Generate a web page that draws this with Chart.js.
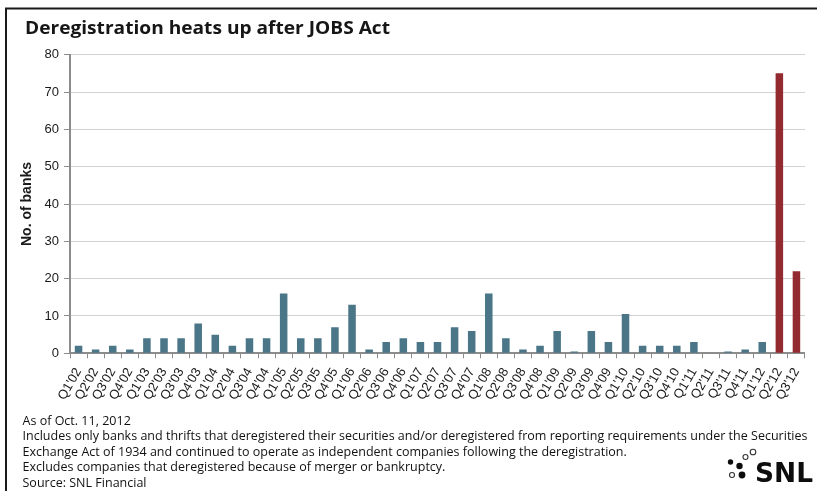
<!DOCTYPE html>
<html>
<head>
<meta charset="utf-8">
<script src="https://cdn.jsdelivr.net/npm/chart.js@4.4.1/dist/chart.umd.min.js"></script>
<style>
  html, body { margin: 0; padding: 0; background: #ffffff; }
  #wrap { width: 817px; height: 491px; position: relative; }
</style>
</head>
<body>
<div id="wrap"><canvas id="chart" width="817" height="491"></canvas></div>
<script>
// Quarter labels along the x axis
const quarters = [
  "Q1'02", "Q2'02", "Q3'02", "Q4'02",
  "Q1'03", "Q2'03", "Q3'03", "Q4'03",
  "Q1'04", "Q2'04", "Q3'04", "Q4'04",
  "Q1'05", "Q2'05", "Q3'05", "Q4'05",
  "Q1'06", "Q2'06", "Q3'06", "Q4'06",
  "Q1'07", "Q2'07", "Q3'07", "Q4'07",
  "Q1'08", "Q2'08", "Q3'08", "Q4'08",
  "Q1'09", "Q2'09", "Q3'09", "Q4'09",
  "Q1'10", "Q2'10", "Q3'10", "Q4'10",
  "Q1'11", "Q2'11", "Q3'11", "Q4'11",
  "Q1'12", "Q2'12", "Q3'12"
];

// Number of banks deregistering each quarter
const deregistrations = [
  2, 1, 2, 1,
  4, 4, 4, 8,
  5, 2, 4, 4,
  16, 4, 4, 7,
  13, 1, 3, 4,
  3, 3, 7, 6,
  16, 4, 1, 2,
  6, 0.5, 6, 3,
  10.5, 2, 2, 2,
  3, 0, 0.5, 1,
  3, 75, 22
];

// Quarters after the JOBS Act are highlighted
const postJobsAct = ["Q2'12", "Q3'12"];

// Y axis ticks
const yTicks = [0, 10, 20, 30, 40, 50, 60, 70, 80];

const titleText = 'Deregistration heats up after JOBS Act';
const yAxisTitle = 'No. of banks';
const noteLines = [
  'As of Oct. 11, 2012',
  'Includes only banks and thrifts that deregistered their securities and/or deregistered from reporting requirements under the Securities',
  'Exchange Act of 1934 and continued to operate as independent companies following the deregistration.',
  'Excludes companies that deregistered because of merger or bankruptcy.',
  'Source: SNL Financial'
];

const BLUE = '#4a7688';
const RED = '#922a2f';
const AXIS = '#8c8c8c';

const barColors = quarters.map(q => postJobsAct.includes(q) ? RED : BLUE);

// Draws a line of text squeezed/stretched horizontally by sx
function drawScaled(ctx, text, x, y, sx) {
  ctx.save();
  ctx.translate(x, y);
  ctx.scale(sx, 1);
  ctx.fillText(text, 0, 0);
  ctx.restore();
}

const decorations = {
  id: 'decorations',
  beforeDraw(chart) {
    const ctx = chart.ctx;
    ctx.save();
    ctx.fillStyle = '#ffffff';
    ctx.fillRect(0, 0, chart.width, chart.height);
    ctx.restore();
  },
  afterDraw(chart) {
    const ctx = chart.ctx;
    ctx.save();

    // frame lines
    ctx.strokeStyle = '#1a1a1a';
    ctx.lineWidth = 2;
    ctx.beginPath();
    ctx.moveTo(6, 491);
    ctx.lineTo(6, 8.5);
    ctx.lineTo(817, 8.5);
    ctx.stroke();

    // title
    ctx.fillStyle = '#161616';
    ctx.textBaseline = 'alphabetic';
    ctx.textAlign = 'left';
    ctx.font = 'bold 17.5px "Open Sans", sans-serif';
    const tw = ctx.measureText(titleText).width;
    drawScaled(ctx, titleText, 25, 33.5, 365 / tw);

    // footnotes
    ctx.fillStyle = '#111111';
    ctx.font = '12.5px "Open Sans", sans-serif';
    const longest = ctx.measureText(noteLines[1]).width;
    const sx = 785 / longest;
    const baselines = [425, 440.4, 455.8, 471.2, 486.6];
    noteLines.forEach((line, i) => drawScaled(ctx, line, 22.5, baselines[i], sx));

    // logo
    ctx.fillStyle = '#0d0d0d';
    ctx.font = 'bold 27px "DejaVu Sans", sans-serif';
    const lw = ctx.measureText('SNL').width;
    drawScaled(ctx, 'SNL', 755, 482, 58 / lw);
    const filled = [[730.5, 462, 2.7], [739.5, 466, 3.2], [742, 475, 3.4]];
    const hollow = [[753, 452, 2.8], [745.5, 457, 2.5], [732, 475, 2.5]];
    filled.forEach(([x, y, r]) => { ctx.beginPath(); ctx.arc(x, y, r, 0, Math.PI * 2); ctx.fill(); });
    ctx.strokeStyle = '#333';
    ctx.lineWidth = 1.1;
    hollow.forEach(([x, y, r]) => { ctx.beginPath(); ctx.arc(x, y, r, 0, Math.PI * 2); ctx.stroke(); });

    ctx.restore();
  }
};

new Chart(document.getElementById('chart'), {
  type: 'bar',
  data: {
    labels: quarters,
    datasets: [{
      data: deregistrations,
      backgroundColor: barColors,
      borderWidth: 0,
      barPercentage: 0.44,
      categoryPercentage: 1.0
    }]
  },
  options: {
    responsive: false,
    animation: false,
    devicePixelRatio: 1,
    layout: { padding: { top: 54.7, right: 3.3, bottom: 0, left: 0 } },
    plugins: {
      legend: { display: false },
      tooltip: { enabled: false },
      title: { display: false }
    },
    scales: {
      x: {
        offset: true,
        border: { display: true, color: AXIS, width: 2 },
        grid: {
          offset: true,
          drawOnChartArea: false,
          drawTicks: true,
          tickLength: 5,
          tickColor: AXIS,
          tickWidth: 1
        },
        ticks: {
          autoSkip: false,
          maxRotation: 60,
          minRotation: 60,
          padding: 7,
          color: '#1a1a1a',
          font: { family: '"Liberation Sans", Arial, sans-serif', size: 13 }
        },
        afterFit(scale) { scale.height = 491 - 353.3; }
      },
      y: {
        min: 0,
        max: 80,
        afterBuildTicks(scale) { scale.ticks = yTicks.map(v => ({ value: v })); },
        border: { display: true, color: AXIS, width: 2 },
        grid: {
          color: '#d2d2d2',
          lineWidth: 1,
          borderDash: [4, 2],
          drawTicks: true,
          tickLength: 6,
          tickColor: AXIS,
          tickWidth: 1,
          tickBorderDash: []
        },
        ticks: {
          padding: 5,
          color: '#1a1a1a',
          font: { family: '"Liberation Sans", Arial, sans-serif', size: 13 }
        },
        title: {
          display: true,
          text: yAxisTitle,
          color: '#1a1a1a',
          font: { family: '"Liberation Sans", Arial, sans-serif', size: 14, weight: 'bold' },
          padding: { top: 18.5, bottom: 0 }
        },
        afterFit(scale) { scale.width = 70; }
      }
    }
  },
  plugins: [decorations]
});
</script>
</body>
</html>
